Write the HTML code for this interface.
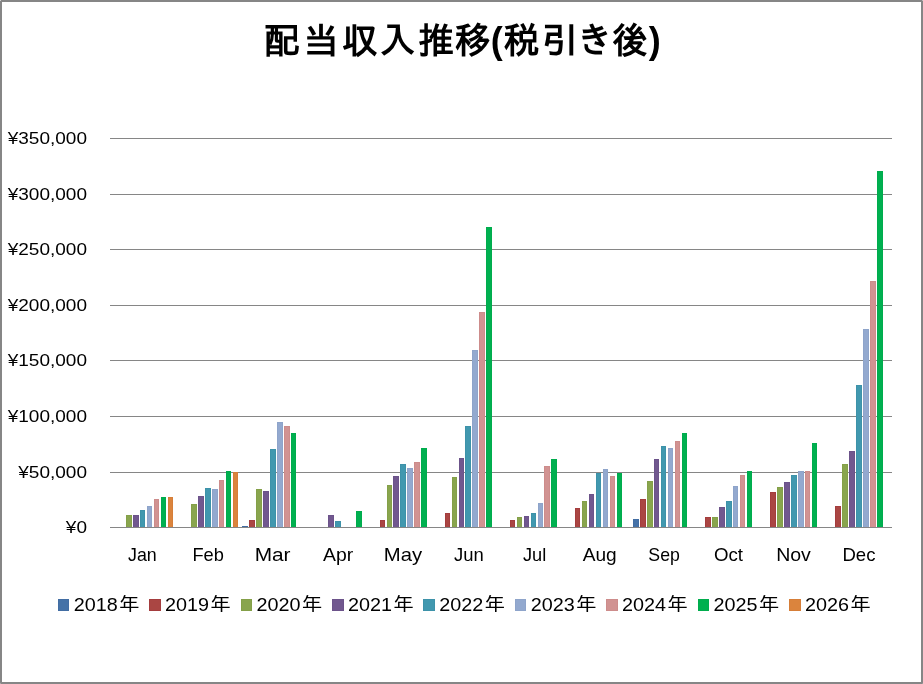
<!DOCTYPE html>
<html><head><meta charset="utf-8"><title>配当収入推移(税引き後)</title>
<style>
html,body{margin:0;padding:0;background:#fff;}
#chart{position:relative;width:923px;height:684px;overflow:hidden;background:#fff;}
#chart svg{position:absolute;left:0;top:0;}
#txt{will-change:transform;}
.ttl{font-family:"Liberation Sans","IPAGothic",sans-serif;font-size:36px;font-weight:bold;fill:#000;}
.yl{font-family:"Liberation Sans",sans-serif;font-size:17px;fill:#000;}
.xl{font-family:"Liberation Sans",sans-serif;font-size:17.7px;fill:#000;}
.lg{font-family:"Liberation Sans",sans-serif;font-size:18.4px;fill:#000;}
.nen{font-family:"Liberation Sans","IPAGothic",sans-serif;font-size:19.3px;}
</style></head>
<body><div id="chart">
<svg width="923" height="684" viewBox="0 0 923 684" shape-rendering="crispEdges">
<rect x="110" y="138" width="782" height="1" fill="#868686"/>
<rect x="110" y="194" width="782" height="1" fill="#868686"/>
<rect x="110" y="249" width="782" height="1" fill="#868686"/>
<rect x="110" y="305" width="782" height="1" fill="#868686"/>
<rect x="110" y="360" width="782" height="1" fill="#868686"/>
<rect x="110" y="416" width="782" height="1" fill="#868686"/>
<rect x="110" y="472" width="782" height="1" fill="#868686"/>
<rect x="126" y="515" width="6" height="12" fill="#84A048"/>
<rect x="127" y="516" width="4" height="11" fill="#89A54E"/>
<rect x="133" y="515" width="6" height="12" fill="#6C538A"/>
<rect x="134" y="516" width="4" height="11" fill="#71588F"/>
<rect x="140" y="510" width="5" height="17" fill="#3D92A9"/>
<rect x="141" y="511" width="3" height="16" fill="#4198AF"/>
<rect x="147" y="506" width="5" height="21" fill="#8EA4CA"/>
<rect x="148" y="507" width="3" height="20" fill="#93A9CF"/>
<rect x="154" y="499" width="5" height="28" fill="#CD8C8B"/>
<rect x="155" y="500" width="3" height="27" fill="#D19392"/>
<rect x="161" y="497" width="5" height="30" fill="#00AC4D"/>
<rect x="162" y="498" width="3" height="29" fill="#00B050"/>
<rect x="168" y="497" width="5" height="30" fill="#D67E38"/>
<rect x="169" y="498" width="3" height="29" fill="#DB843D"/>
<rect x="191" y="504" width="6" height="23" fill="#84A048"/>
<rect x="192" y="505" width="4" height="22" fill="#89A54E"/>
<rect x="198" y="496" width="6" height="31" fill="#6C538A"/>
<rect x="199" y="497" width="4" height="30" fill="#71588F"/>
<rect x="205" y="488" width="6" height="39" fill="#3D92A9"/>
<rect x="206" y="489" width="4" height="38" fill="#4198AF"/>
<rect x="212" y="489" width="6" height="38" fill="#8EA4CA"/>
<rect x="213" y="490" width="4" height="37" fill="#93A9CF"/>
<rect x="219" y="480" width="5" height="47" fill="#CD8C8B"/>
<rect x="220" y="481" width="3" height="46" fill="#D19392"/>
<rect x="226" y="471" width="5" height="56" fill="#00AC4D"/>
<rect x="227" y="472" width="3" height="55" fill="#00B050"/>
<rect x="233" y="472" width="5" height="55" fill="#D67E38"/>
<rect x="234" y="473" width="3" height="54" fill="#DB843D"/>
<rect x="242" y="526" width="6" height="1" fill="#426DA3"/>
<rect x="249" y="520" width="6" height="7" fill="#A43D3E"/>
<rect x="250" y="521" width="4" height="6" fill="#AA4643"/>
<rect x="256" y="489" width="6" height="38" fill="#84A048"/>
<rect x="257" y="490" width="4" height="37" fill="#89A54E"/>
<rect x="263" y="491" width="6" height="36" fill="#6C538A"/>
<rect x="264" y="492" width="4" height="35" fill="#71588F"/>
<rect x="270" y="449" width="6" height="78" fill="#3D92A9"/>
<rect x="271" y="450" width="4" height="77" fill="#4198AF"/>
<rect x="277" y="422" width="6" height="105" fill="#8EA4CA"/>
<rect x="278" y="423" width="4" height="104" fill="#93A9CF"/>
<rect x="284" y="426" width="6" height="101" fill="#CD8C8B"/>
<rect x="285" y="427" width="4" height="100" fill="#D19392"/>
<rect x="291" y="433" width="5" height="94" fill="#00AC4D"/>
<rect x="292" y="434" width="3" height="93" fill="#00B050"/>
<rect x="328" y="515" width="6" height="12" fill="#6C538A"/>
<rect x="329" y="516" width="4" height="11" fill="#71588F"/>
<rect x="335" y="521" width="6" height="6" fill="#3D92A9"/>
<rect x="336" y="522" width="4" height="5" fill="#4198AF"/>
<rect x="356" y="511" width="6" height="16" fill="#00AC4D"/>
<rect x="357" y="512" width="4" height="15" fill="#00B050"/>
<rect x="380" y="520" width="5" height="7" fill="#A43D3E"/>
<rect x="381" y="521" width="3" height="6" fill="#AA4643"/>
<rect x="387" y="485" width="5" height="42" fill="#84A048"/>
<rect x="388" y="486" width="3" height="41" fill="#89A54E"/>
<rect x="393" y="476" width="6" height="51" fill="#6C538A"/>
<rect x="394" y="477" width="4" height="50" fill="#71588F"/>
<rect x="400" y="464" width="6" height="63" fill="#3D92A9"/>
<rect x="401" y="465" width="4" height="62" fill="#4198AF"/>
<rect x="407" y="468" width="6" height="59" fill="#8EA4CA"/>
<rect x="408" y="469" width="4" height="58" fill="#93A9CF"/>
<rect x="414" y="462" width="6" height="65" fill="#CD8C8B"/>
<rect x="415" y="463" width="4" height="64" fill="#D19392"/>
<rect x="421" y="448" width="6" height="79" fill="#00AC4D"/>
<rect x="422" y="449" width="4" height="78" fill="#00B050"/>
<rect x="445" y="513" width="5" height="14" fill="#A43D3E"/>
<rect x="446" y="514" width="3" height="13" fill="#AA4643"/>
<rect x="452" y="477" width="5" height="50" fill="#84A048"/>
<rect x="453" y="478" width="3" height="49" fill="#89A54E"/>
<rect x="459" y="458" width="5" height="69" fill="#6C538A"/>
<rect x="460" y="459" width="3" height="68" fill="#71588F"/>
<rect x="465" y="426" width="6" height="101" fill="#3D92A9"/>
<rect x="466" y="427" width="4" height="100" fill="#4198AF"/>
<rect x="472" y="350" width="6" height="177" fill="#8EA4CA"/>
<rect x="473" y="351" width="4" height="176" fill="#93A9CF"/>
<rect x="479" y="312" width="6" height="215" fill="#CD8C8B"/>
<rect x="480" y="313" width="4" height="214" fill="#D19392"/>
<rect x="486" y="227" width="6" height="300" fill="#00AC4D"/>
<rect x="487" y="228" width="4" height="299" fill="#00B050"/>
<rect x="510" y="520" width="5" height="7" fill="#A43D3E"/>
<rect x="511" y="521" width="3" height="6" fill="#AA4643"/>
<rect x="517" y="517" width="5" height="10" fill="#84A048"/>
<rect x="518" y="518" width="3" height="9" fill="#89A54E"/>
<rect x="524" y="516" width="5" height="11" fill="#6C538A"/>
<rect x="525" y="517" width="3" height="10" fill="#71588F"/>
<rect x="531" y="513" width="5" height="14" fill="#3D92A9"/>
<rect x="532" y="514" width="3" height="13" fill="#4198AF"/>
<rect x="538" y="503" width="5" height="24" fill="#8EA4CA"/>
<rect x="539" y="504" width="3" height="23" fill="#93A9CF"/>
<rect x="544" y="466" width="6" height="61" fill="#CD8C8B"/>
<rect x="545" y="467" width="4" height="60" fill="#D19392"/>
<rect x="551" y="459" width="6" height="68" fill="#00AC4D"/>
<rect x="552" y="460" width="4" height="67" fill="#00B050"/>
<rect x="575" y="508" width="5" height="19" fill="#A43D3E"/>
<rect x="576" y="509" width="3" height="18" fill="#AA4643"/>
<rect x="582" y="501" width="5" height="26" fill="#84A048"/>
<rect x="583" y="502" width="3" height="25" fill="#89A54E"/>
<rect x="589" y="494" width="5" height="33" fill="#6C538A"/>
<rect x="590" y="495" width="3" height="32" fill="#71588F"/>
<rect x="596" y="473" width="5" height="54" fill="#3D92A9"/>
<rect x="597" y="474" width="3" height="53" fill="#4198AF"/>
<rect x="603" y="469" width="5" height="58" fill="#8EA4CA"/>
<rect x="604" y="470" width="3" height="57" fill="#93A9CF"/>
<rect x="610" y="476" width="5" height="51" fill="#CD8C8B"/>
<rect x="611" y="477" width="3" height="50" fill="#D19392"/>
<rect x="617" y="473" width="5" height="54" fill="#00AC4D"/>
<rect x="618" y="474" width="3" height="53" fill="#00B050"/>
<rect x="633" y="519" width="6" height="8" fill="#426DA3"/>
<rect x="634" y="520" width="4" height="7" fill="#4572A7"/>
<rect x="640" y="499" width="6" height="28" fill="#A43D3E"/>
<rect x="641" y="500" width="4" height="27" fill="#AA4643"/>
<rect x="647" y="481" width="6" height="46" fill="#84A048"/>
<rect x="648" y="482" width="4" height="45" fill="#89A54E"/>
<rect x="654" y="459" width="5" height="68" fill="#6C538A"/>
<rect x="655" y="460" width="3" height="67" fill="#71588F"/>
<rect x="661" y="446" width="5" height="81" fill="#3D92A9"/>
<rect x="662" y="447" width="3" height="80" fill="#4198AF"/>
<rect x="668" y="448" width="5" height="79" fill="#8EA4CA"/>
<rect x="669" y="449" width="3" height="78" fill="#93A9CF"/>
<rect x="675" y="441" width="5" height="86" fill="#CD8C8B"/>
<rect x="676" y="442" width="3" height="85" fill="#D19392"/>
<rect x="682" y="433" width="5" height="94" fill="#00AC4D"/>
<rect x="683" y="434" width="3" height="93" fill="#00B050"/>
<rect x="705" y="517" width="6" height="10" fill="#A43D3E"/>
<rect x="706" y="518" width="4" height="9" fill="#AA4643"/>
<rect x="712" y="517" width="6" height="10" fill="#84A048"/>
<rect x="713" y="518" width="4" height="9" fill="#89A54E"/>
<rect x="719" y="507" width="6" height="20" fill="#6C538A"/>
<rect x="720" y="508" width="4" height="19" fill="#71588F"/>
<rect x="726" y="501" width="6" height="26" fill="#3D92A9"/>
<rect x="727" y="502" width="4" height="25" fill="#4198AF"/>
<rect x="733" y="486" width="5" height="41" fill="#8EA4CA"/>
<rect x="734" y="487" width="3" height="40" fill="#93A9CF"/>
<rect x="740" y="475" width="5" height="52" fill="#CD8C8B"/>
<rect x="741" y="476" width="3" height="51" fill="#D19392"/>
<rect x="747" y="471" width="5" height="56" fill="#00AC4D"/>
<rect x="748" y="472" width="3" height="55" fill="#00B050"/>
<rect x="770" y="492" width="6" height="35" fill="#A43D3E"/>
<rect x="771" y="493" width="4" height="34" fill="#AA4643"/>
<rect x="777" y="487" width="6" height="40" fill="#84A048"/>
<rect x="778" y="488" width="4" height="39" fill="#89A54E"/>
<rect x="784" y="482" width="6" height="45" fill="#6C538A"/>
<rect x="785" y="483" width="4" height="44" fill="#71588F"/>
<rect x="791" y="475" width="6" height="52" fill="#3D92A9"/>
<rect x="792" y="476" width="4" height="51" fill="#4198AF"/>
<rect x="798" y="471" width="6" height="56" fill="#8EA4CA"/>
<rect x="799" y="472" width="4" height="55" fill="#93A9CF"/>
<rect x="805" y="471" width="5" height="56" fill="#CD8C8B"/>
<rect x="806" y="472" width="3" height="55" fill="#D19392"/>
<rect x="812" y="443" width="5" height="84" fill="#00AC4D"/>
<rect x="813" y="444" width="3" height="83" fill="#00B050"/>
<rect x="835" y="506" width="6" height="21" fill="#A43D3E"/>
<rect x="836" y="507" width="4" height="20" fill="#AA4643"/>
<rect x="842" y="464" width="6" height="63" fill="#84A048"/>
<rect x="843" y="465" width="4" height="62" fill="#89A54E"/>
<rect x="849" y="451" width="6" height="76" fill="#6C538A"/>
<rect x="850" y="452" width="4" height="75" fill="#71588F"/>
<rect x="856" y="385" width="6" height="142" fill="#3D92A9"/>
<rect x="857" y="386" width="4" height="141" fill="#4198AF"/>
<rect x="863" y="329" width="6" height="198" fill="#8EA4CA"/>
<rect x="864" y="330" width="4" height="197" fill="#93A9CF"/>
<rect x="870" y="281" width="6" height="246" fill="#CD8C8B"/>
<rect x="871" y="282" width="4" height="245" fill="#D19392"/>
<rect x="877" y="171" width="6" height="356" fill="#00AC4D"/>
<rect x="878" y="172" width="4" height="355" fill="#00B050"/>
<rect x="110" y="527" width="782" height="1" fill="#868686"/>
<rect x="0" y="0" width="923" height="2" fill="#868686"/>
<rect x="0" y="682" width="923" height="2" fill="#868686"/>
<rect x="0" y="0" width="2" height="684" fill="#868686"/>
<rect x="921" y="0" width="2" height="684" fill="#868686"/>
<rect x="0" y="0" width="1" height="1" fill="#D0D0D0"/>
<rect x="922" y="0" width="1" height="1" fill="#BEBEBE"/>
<rect x="0" y="683" width="1" height="1" fill="#A8A8A8"/>
<rect x="922" y="683" width="1" height="1" fill="#9E9E9E"/>
<rect x="58" y="599" width="11" height="12" fill="#426DA3"/>
<rect x="59" y="600" width="9" height="10" fill="#4572A7"/>
<rect x="149" y="599" width="12" height="12" fill="#A43D3E"/>
<rect x="150" y="600" width="10" height="10" fill="#AA4643"/>
<rect x="241" y="599" width="11" height="12" fill="#84A048"/>
<rect x="242" y="600" width="9" height="10" fill="#89A54E"/>
<rect x="332" y="599" width="12" height="12" fill="#6C538A"/>
<rect x="333" y="600" width="10" height="10" fill="#71588F"/>
<rect x="423" y="599" width="12" height="12" fill="#3D92A9"/>
<rect x="424" y="600" width="10" height="10" fill="#4198AF"/>
<rect x="515" y="599" width="11" height="12" fill="#8EA4CA"/>
<rect x="516" y="600" width="9" height="10" fill="#93A9CF"/>
<rect x="606" y="599" width="12" height="12" fill="#CD8C8B"/>
<rect x="607" y="600" width="10" height="10" fill="#D19392"/>
<rect x="698" y="599" width="11" height="12" fill="#00AC4D"/>
<rect x="699" y="600" width="9" height="10" fill="#00B050"/>
<rect x="789" y="599" width="12" height="12" fill="#D67E38"/>
<rect x="790" y="600" width="10" height="10" fill="#DB843D"/>
</svg>
<svg id="txt" width="923" height="684" viewBox="0 0 923 684">
<text class="yl" transform="translate(87 144.10) scale(1.12 1)" text-anchor="end">¥350,000</text>
<text class="yl" transform="translate(87 199.67) scale(1.12 1)" text-anchor="end">¥300,000</text>
<text class="yl" transform="translate(87 255.24) scale(1.12 1)" text-anchor="end">¥250,000</text>
<text class="yl" transform="translate(87 310.81) scale(1.12 1)" text-anchor="end">¥200,000</text>
<text class="yl" transform="translate(87 366.38) scale(1.12 1)" text-anchor="end">¥150,000</text>
<text class="yl" transform="translate(87 421.95) scale(1.12 1)" text-anchor="end">¥100,000</text>
<text class="yl" transform="translate(87 477.52) scale(1.12 1)" text-anchor="end">¥50,000</text>
<text class="yl" transform="translate(87 533.09) scale(1.12 1)" text-anchor="end">¥0</text>
<text class="xl" transform="translate(142.40 561) scale(1.0073 1)" text-anchor="middle">Jan</text>
<text class="xl" transform="translate(208.10 561) scale(1.0308 1)" text-anchor="middle">Feb</text>
<text class="xl" transform="translate(272.60 561) scale(1.1770 1)" text-anchor="middle">Mar</text>
<text class="xl" transform="translate(338.20 561) scale(1.0958 1)" text-anchor="middle">Apr</text>
<text class="xl" transform="translate(403.00 561) scale(1.1455 1)" text-anchor="middle">May</text>
<text class="xl" transform="translate(468.80 561) scale(1.0442 1)" text-anchor="middle">Jun</text>
<text class="xl" transform="translate(534.60 561) scale(1.0281 1)" text-anchor="middle">Jul</text>
<text class="xl" transform="translate(599.70 561) scale(1.0800 1)" text-anchor="middle">Aug</text>
<text class="xl" transform="translate(664.10 561) scale(0.9998 1)" text-anchor="middle">Sep</text>
<text class="xl" transform="translate(728.50 561) scale(1.0552 1)" text-anchor="middle">Oct</text>
<text class="xl" transform="translate(793.50 561) scale(1.1045 1)" text-anchor="middle">Nov</text>
<text class="xl" transform="translate(858.90 561) scale(1.0493 1)" text-anchor="middle">Dec</text>
<text class="lg" transform="translate(73.70 611) scale(1.075 1)">2018<tspan class="nen" dx="1.2">年</tspan></text>
<text class="lg" transform="translate(165.10 611) scale(1.075 1)">2019<tspan class="nen" dx="1.2">年</tspan></text>
<text class="lg" transform="translate(256.50 611) scale(1.075 1)">2020<tspan class="nen" dx="1.2">年</tspan></text>
<text class="lg" transform="translate(347.90 611) scale(1.075 1)">2021<tspan class="nen" dx="1.2">年</tspan></text>
<text class="lg" transform="translate(439.30 611) scale(1.075 1)">2022<tspan class="nen" dx="1.2">年</tspan></text>
<text class="lg" transform="translate(530.70 611) scale(1.075 1)">2023<tspan class="nen" dx="1.2">年</tspan></text>
<text class="lg" transform="translate(622.10 611) scale(1.075 1)">2024<tspan class="nen" dx="1.2">年</tspan></text>
<text class="lg" transform="translate(713.50 611) scale(1.075 1)">2025<tspan class="nen" dx="1.2">年</tspan></text>
<text class="lg" transform="translate(804.90 611) scale(1.075 1)">2026<tspan class="nen" dx="1.2">年</tspan></text>
<text class="ttl" x="264.10 303.35 341.65 379.55 418.20 454.70 490.85 503.60 542.10 576.80 612.25 648.85" y="53.3">配当収入推移(税引き後)</text>
</svg>
</div></body></html>
